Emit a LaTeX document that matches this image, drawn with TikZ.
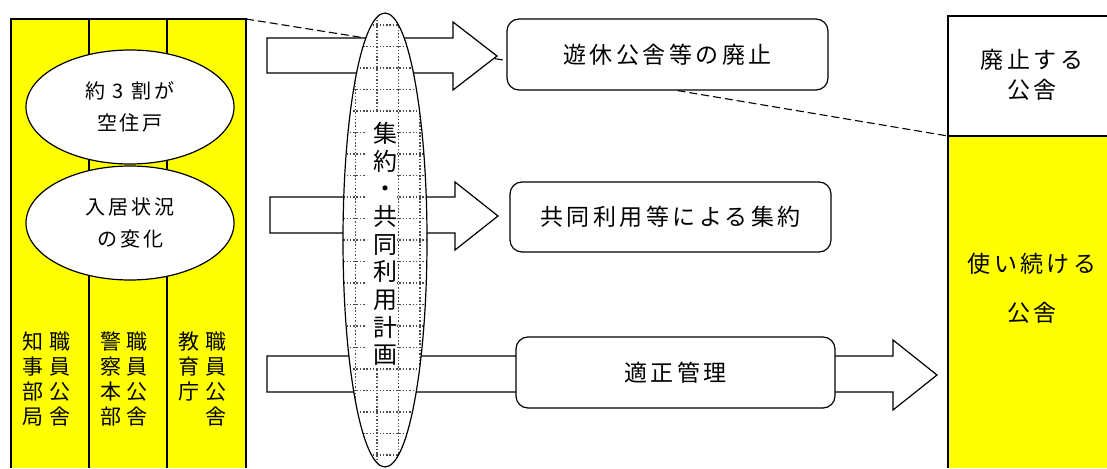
\documentclass[tikz,border=0pt]{standalone}
\usepackage{fontspec}
\newfontfamily\jp{Noto Sans CJK JP}
\newfontfamily\jpls[LetterSpace=15]{Noto Sans CJK JP}
\usetikzlibrary{shapes.geometric}
\definecolor{ky}{HTML}{FFFF00}
\begin{document}
\begin{tikzpicture}[x=1pt,y=-1pt,line width=1.2pt,
  oval/.style={ellipse,draw,fill=white,inner sep=0pt,minimum width=208pt,minimum height=114pt,align=center,font=\jpls\fontsize{20}{32}\selectfont},
  rbox/.style={draw,rounded corners=12pt,fill=white,inner sep=0pt,font=\jpls\fontsize{23}{26}\selectfont},
  vtext/.style={anchor=north,align=center,inner sep=0pt,font=\jp\fontsize{21}{25}\selectfont},
  ctext/.style={align=center,inner sep=0pt,font=\jp\fontsize{24}{27.7}\selectfont},
  rtext/.style={align=center,inner sep=0pt,font=\jpls\fontsize{23}{30}\selectfont},
  barrow/.style={draw,fill=white,line join=miter},
  dline/.style={dash pattern=on 8pt off 4pt,line width=1.1pt},
  gridline/.style={line width=1.5pt,dash pattern=on 1.5pt off 1.8pt,black!70}]
\useasboundingbox (0,0) rectangle (1107,468);
% left block
\fill[ky] (11,19) rectangle (246,468);
\draw (11,468) -- (11,19) -- (246,19) -- (246,468);
\draw (89,19) -- (89,468);
\draw (167,19) -- (167,468);
\coordinate (lbc) at (246,19);
\node[oval] (o1) at (130,107) {約 3 割が\\空住戸};
\node[oval] (o2) at (130,223) {入居状況\\の変化};
\node[vtext] (c1a) at (33,331) {知\\事\\部\\局};
\node[vtext] (c1b) at (60,331) {職\\員\\公\\舎};
\node[vtext] (c2a) at (111,331) {警\\察\\本\\部};
\node[vtext] (c2b) at (137,331) {職\\員\\公\\舎};
\node[vtext] (c3a) at (189,331) {教\\育\\庁};
\node[vtext] (c3b) at (216,331) {職\\員\\公\\舎};
% boxes (named first for connectors)
\node[rbox,minimum width=321pt,minimum height=71pt] (b1) at (667.5,54.5) {遊休公舎等の廃止};
% dashed line 1
\draw[dline] (lbc) -- ([yshift=-6pt]b1.west);
% arrows
\draw[barrow] (267,38) -- (453,38) -- (453,22) -- (497,56) -- (453,90) -- (453,73) -- (267,73) -- cycle;
\draw[barrow] (270,197) -- (455,197) -- (455,182) -- (498,216) -- (455,250) -- (455,233) -- (270,233) -- cycle;
\draw[barrow] (267,356) -- (893,356) -- (893,340) -- (937,375) -- (893,410) -- (893,392) -- (267,392) -- cycle;
% central ellipse with grid
\begin{scope}
\clip (385,240) ellipse [x radius=42, y radius=227];
\fill[white] (343,13) rectangle (427,467);
\foreach \x in {334,355.5,377,398.5,420} \draw[gridline] (\x,10) -- (\x,470);
\foreach \k in {0,...,21} \draw[gridline] (330,25+21.5*\k) -- (440,25+21.5*\k);
\fill[white] (366,112) rectangle (397,368);
\end{scope}
\node[ellipse,draw,inner sep=0pt,minimum width=84pt,minimum height=454pt] (ce) at (385,240) {};
\node[ctext] (ct) at (385,244) {集\\約\\・\\共\\同\\利\\用\\計\\画};
% boxes
\node[rbox,minimum width=321pt,minimum height=70pt] (b2) at (670.5,217) {共同利用等による集約};
\node[rbox,minimum width=319pt,minimum height=71pt] (b3) at (675.5,372.5) {適正管理};
% right block
\fill[ky] (948,136) rectangle (1107,468);
\draw (1107,16) -- (948,16) -- (948,468);
\draw (948,136) -- (1107,136);
\coordinate (rbc) at (948,136);
\node[rtext] (r1) at (1032,75) {廃止する\\公舎};
\node[rtext,font=\jpls\fontsize{23}{49}\selectfont] (r2) at (1032,288) {使い続ける\\公舎};
% dashed line 2
\draw[dline] ([xshift=10pt]b1.south) -- (rbc);
\end{tikzpicture}
\end{document}
